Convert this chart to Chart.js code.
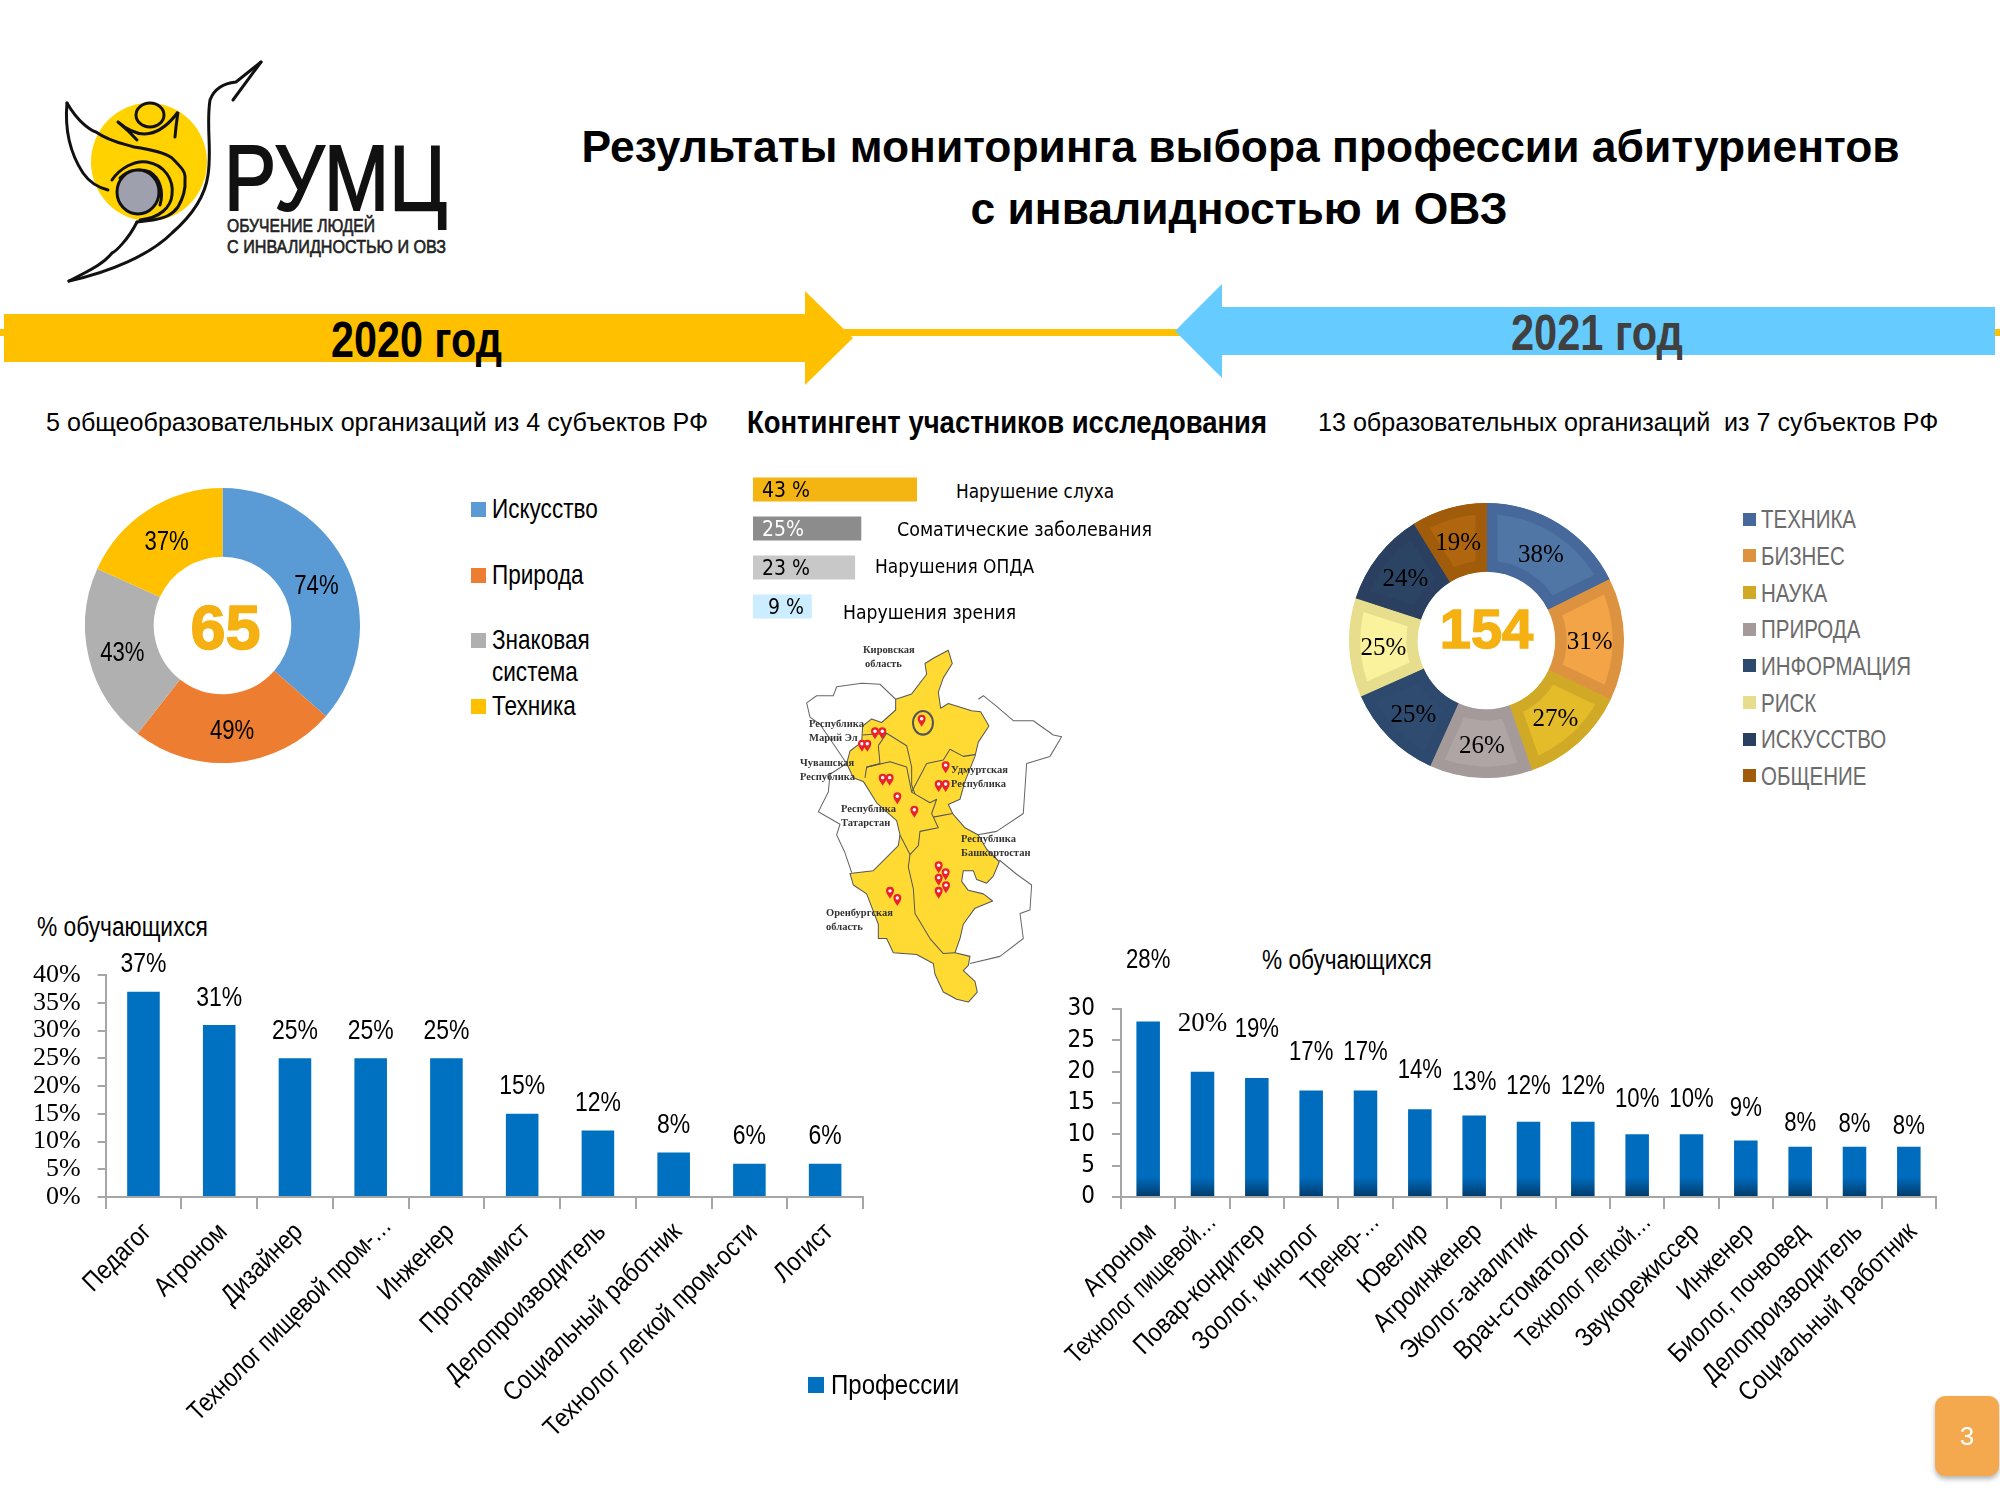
<!DOCTYPE html>
<html lang="ru">
<head>
<meta charset="utf-8">
<title>Результаты мониторинга</title>
<script src="https://cdn.jsdelivr.net/npm/chart.js@4/dist/chart.umd.min.js"></script>
<style>
html,body{margin:0;padding:0;background:#fff;}
#page{position:relative;width:2000px;height:1500px;overflow:hidden;font-family:"Liberation Sans",Arial,sans-serif;color:#000;}
#page canvas,#page svg,.t{position:absolute;}
.t{white-space:nowrap;transform:translateY(-50%);transform-origin:left center;}
.cond{font-family:"DejaVu Sans Condensed","DejaVu Sans",sans-serif;font-stretch:condensed;font-size:19.3px;}
.title{font-weight:bold;font-size:44.4px;left:581.5px;width:1315px;text-align:center;}
.sub{font-size:25.1px;}
.sq{position:absolute;}
#pageNo{position:absolute;left:1935px;top:1396px;width:64px;height:80px;background:#F4A94E;border-radius:10px;box-shadow:0 3px 5px rgba(0,0,0,.3);color:#fff;font-size:26px;line-height:80px;text-align:center;}
</style>
</head>
<body>
<div id="page">

<!-- logo -->
<svg style="left:50px;top:50px" width="420" height="250" viewBox="50 50 420 250">
  <ellipse cx="149" cy="162" rx="58" ry="59" fill="#FFD200"/>
  <g fill="none" stroke="#111" stroke-width="3" stroke-linecap="round">
    <path d="M261 62 L236 82 Q216 84 210 100 C206 125 212 150 208 175 C204 205 180 226 172 233 C150 255 110 272 69 281"/>
    <path d="M261 62 L233 100"/>
    <path d="M137 222 C128 240 115 252 112 253 C105 262 95 268 69 281"/>
    <path d="M67 103 C65 125 68 150 83 173 C90 183 100 188 108 190"/>
    <path d="M67 103 C78 122 90 130 96 132 C110 142 125 144 134 147 C155 150 165 153 172 158 C182 168 186 172 185 180 C186 192 182 200 178 207 C172 215 165 218 153 220 L137 222"/>
    <ellipse cx="150" cy="115" rx="14" ry="12"/>
    <path d="M118 122 Q150 150 178 112 Q176 125 175 137 M118 122 Q128 130 137 140"/>
    <path d="M112 180 C120 168 135 160 147 162 C165 165 174 180 172 195 C171 207 160 218 140 220"/>
    <path d="M120 178 C128 170 140 168 150 172 C160 178 164 192 160 205"/>
  </g>
  <ellipse cx="138" cy="192" rx="21" ry="22" fill="#9EA1AD" stroke="#111" stroke-width="3"/>
  <text x="224" y="210" font-family="Liberation Sans" font-size="93" stroke="#111" stroke-width="2" fill="#111" textLength="223" lengthAdjust="spacingAndGlyphs">РУМЦ</text>
  <text x="227" y="232" font-family="Liberation Sans" font-size="18" fill="#222" stroke="#222" stroke-width=".6" textLength="148" lengthAdjust="spacingAndGlyphs">ОБУЧЕНИЕ ЛЮДЕЙ</text>
  <text x="227" y="253" font-family="Liberation Sans" font-size="18" fill="#222" stroke="#222" stroke-width=".6" textLength="219" lengthAdjust="spacingAndGlyphs">С ИНВАЛИДНОСТЬЮ И ОВЗ</text>
</svg>

<div class="t title" style="top:147px">Результаты мониторинга выбора профессии абитуриентов</div>
<div class="t title" style="top:209px">с инвалидностью и ОВЗ</div>

<!-- timeline arrows -->
<svg style="left:0;top:270px" width="2000" height="130" viewBox="0 270 2000 130">
  <rect x="0" y="329" width="2000" height="7" fill="#FFC000"/>
  <polygon points="4,314 805,314 805,291 853,338 805,385 805,362 4,362" fill="#FFC000"/>
  <polygon points="1995,307 1222,307 1222,284 1175,331 1222,378 1222,355 1995,355" fill="#66CCFF"/>
</svg>
<div class="t" data-w="171" style="left:331px;top:340px;font-size:50px;font-weight:bold;">2020 год</div>
<div class="t" data-w="172" style="left:1511px;top:333px;font-size:50px;font-weight:bold;color:#404040;">2021 год</div>

<div class="t sub" style="left:46px;top:422px;">5 общеобразовательных организаций из 4 субъектов РФ</div>
<div class="t" data-w="520" style="left:747px;top:422px;font-size:32px;font-weight:bold;">Контингент участников исследования</div>
<div class="t sub" style="left:1318px;top:422px;">13 образовательных организаций&nbsp; из 7 субъектов РФ</div>

<canvas id="donut2020" style="left:85px;top:488px" width="275" height="275"></canvas>
<canvas id="donut2021" style="left:1349px;top:503px" width="275" height="275"></canvas>
<canvas id="contingent" style="left:753px;top:470px" width="164" height="156"></canvas>

<div class="t cond" data-w="158" style="left:956px;top:491px;">Нарушение слуха</div>
<div class="t cond" data-w="255" style="left:897px;top:529px;">Соматические заболевания</div>
<div class="t cond" data-w="159" style="left:875px;top:566px;">Нарушения ОПДА</div>
<div class="t cond" data-w="173" style="left:843px;top:612px;">Нарушения зрения</div>

<!-- map of the regions -->
<svg id="map" style="left:730px;top:460px" width="450" height="560" viewBox="0 0 450 560">
  <g transform="scale(0.3333,0.3571)" fill="none" stroke="#666" stroke-width="3" stroke-linejoin="round">
    <path d="M497 670 L450 628 L395 625 L320 635 L310 660 L260 660 L230 680 L240 720 L270 740 L350 850 L300 880 L295 930 L265 985 L330 1020 L320 1050 L345 1100 L365 1155"/>
    <path d="M745 670 L760 660 L800 690 L850 730 L910 730 L970 770 L995 775 L960 830 L890 850 L880 990 L800 1040 L740 1050"/>
    <path d="M808 1120 L860 1160 L905 1190 L900 1260 L870 1270 L880 1340 L810 1390 L720 1410"/>
    <path fill="#FFDA33" stroke="#555" d="M497 670 L545 655 L590 600 L585 570 L610 555 L655 533 L667 570 L640 610 L625 650 L632 695 L655 682 L725 702 L752 705 L777 745 L745 790 L735 830 L705 900 L690 950 L655 965 L668 990 L705 1030 L745 1050 L770 1090 L808 1125 L790 1165 L770 1185 L740 1175 L730 1150 L700 1150 L695 1180 L715 1205 L760 1215 L788 1235 L735 1255 L700 1300 L690 1340 L675 1380 L720 1390 L715 1415 L700 1430 L735 1460 L742 1490 L715 1518 L680 1510 L640 1490 L615 1440 L610 1410 L560 1385 L490 1380 L470 1340 L445 1340 L445 1300 L410 1215 L370 1190 L360 1158 L430 1150 L505 1080 L510 1050 L500 1010 L440 960 L400 900 L370 890 L350 850 L360 815 L395 790 L398 745 L425 725 L455 735 L497 700 Z"/>
    <path stroke="#555" d="M398 770 L470 765 L530 800 L545 860 L545 910 L555 935 M445 800 L450 850 L410 860 L405 890 M470 765 L445 800"/>
    <path stroke="#555" d="M410 860 L480 845 L530 860 L545 930 L600 960 L620 950 L605 990 L625 1030 L570 1040 L565 1080 L540 1105 L510 1050"/>
    <path stroke="#555" d="M545 930 L590 850 L640 840 L660 810 L700 830 L735 825 M610 1000 L668 990"/>
    <path stroke="#555" d="M540 1105 L535 1140 L550 1200 L555 1270 L600 1340 L640 1382 L675 1380"/>
    <ellipse cx="579" cy="736" rx="30" ry="33" stroke="#555" stroke-width="6"/>
  </g>
  <g id="pins"></g>
  <g font-family="Liberation Serif,DejaVu Serif,serif" font-weight="bold" font-size="10.5px" fill="#333">
    <text x="133" y="193">Кировская</text><text x="135" y="207">область</text>
    <text x="79" y="267">Республика</text><text x="79" y="281">Марий Эл</text>
    <text x="70" y="306">Чувашская</text><text x="70" y="320">Республика</text>
    <text x="111" y="352">Республика</text><text x="111" y="366">Татарстан</text>
    <text x="221" y="313">Удмуртская</text><text x="221" y="327">Республика</text>
    <text x="231" y="382">Республика</text><text x="231" y="396">Башкортостан</text>
    <text x="96" y="456">Оренбургская</text><text x="96" y="470">область</text>
  </g>
</svg>

<div class="t" data-w="171" style="left:37px;top:927px;font-size:27px">% обучающихся</div>
<div class="t" data-w="170" style="left:1262px;top:960px;font-size:27px">% обучающихся</div>

<canvas id="bars2020" style="left:0;top:940px" width="868" height="510"></canvas>
<canvas id="bars2021" style="left:1000px;top:940px" width="940" height="510"></canvas>

<div class="sq" style="left:808px;top:1377px;width:16px;height:16px;background:#0070C0"></div>
<div class="t" data-w="128" style="left:831px;top:1385px;font-size:28px">Профессии</div>

<div id="pageNo">3</div>
</div>

<script>
// 2020 donut
const labels2020 = ['Искусство', 'Природа', 'Знаковая система', 'Техника'];
const values2020 = [74, 49, 43, 37];
const colors2020 = ['#5B9BD5', '#ED7D31', '#B0B0B0', '#FFC000'];
const total2020 = '65';

// 2021 donut
const labels2021 = ['ТЕХНИКА', 'БИЗНЕС', 'НАУКА', 'ПРИРОДА', 'ИНФОРМАЦИЯ', 'РИСК', 'ИСКУССТВО', 'ОБЩЕНИЕ'];
const values2021 = [38, 31, 27, 26, 25, 25, 24, 19];
const fill2021 = ['#4F76A5', '#F2A446', '#E4BB28', '#B0A5A5', '#2F4B70', '#FAF29C', '#2C4464', '#B0660E'];
const rim2021 = ['#46689A', '#DD9240', '#D0AA26', '#A59A9A', '#2D4A6E', '#E6DE8C', '#2B4060', '#A05C0A'];
const total2021 = '154';

// participants
const contingentNames = ['Нарушение слуха', 'Соматические заболевания', 'Нарушения ОПДА', 'Нарушения зрения'];
const contingentValues = [43, 25, 23, 9];
const contingentText = ['43 %', '25%', '23 %', '9 %'];
const contingentColors = ['#F4B412', '#8C8C8C', '#C8C8C8', '#CCECFF'];
const contingentInk = ['#000', '#fff', '#000', '#000'];

// professions 2020
const prof2020 = ['Педагог', 'Агроном', 'Дизайнер', 'Технолог пищевой пром-…', 'Инженер', 'Программист', 'Делопроизводитель', 'Социальный работник', 'Технолог легкой пром-ости', 'Логист'];
const share2020 = [37, 31, 25, 25, 25, 15, 12, 8, 6, 6];

// professions 2021
const prof2021 = ['Агроном', 'Технолог пищевой…', 'Повар-кондитер', 'Зоолог, кинолог', 'Тренер-…', 'Ювелир', 'Агроинженер', 'Эколог-аналитик', 'Врач-стоматолог', 'Технолог легкой…', 'Звукорежиссер', 'Инженер', 'Биолог, почвовед', 'Делопроизводитель', 'Социальный работник'];
const share2021 = [28, 20, 19, 17, 17, 14, 13, 12, 12, 10, 10, 9, 8, 8, 8];
// how far above each bar its label floats on the slide
const lift2021 = [61, 48, 48, 38, 38, 39, 33, 35, 35, 35, 35, 32, 23, 22, 20];

const SANS = '"Liberation Sans",Arial,sans-serif';
const CONDENSED = '"DejaVu Sans Condensed","DejaVu Sans",sans-serif';
const SERIF = '"Liberation Serif","DejaVu Serif",serif';
const AXIS = '#A6A6A6';
const SQUEEZE = 0.82; // slide text is squeezed horizontally

Chart.defaults.animation = false;
Chart.defaults.responsive = false;
Chart.defaults.plugins.legend.display = false;
Chart.defaults.plugins.tooltip.enabled = false;

// writes the percent labels, there is no datalabels plugin here
const valueLabels = {
    id: 'valueLabels',
    afterDatasetsDraw(chart, args, opts) {
        if (!opts.text) return;
        const ctx = chart.ctx;
        const arcs = chart.config.type === 'doughnut';
        chart.getDatasetMeta(0).data.forEach(function(el, i) {
            const p = arcs ? el.getCenterPoint() : el;
            let x = p.x, y = p.y;
            if (opts.lift) y -= opts.lift(i);
            if (opts.inset) x = chart.chartArea.left + opts.inset(i);
            ctx.save();
            ctx.font = opts.fontFor ? opts.fontFor(i) : opts.font;
            ctx.fillStyle = opts.inkFor ? opts.inkFor(i) : '#000';
            ctx.textBaseline = 'middle';
            ctx.textAlign = opts.align || 'center';
            ctx.translate(x, y);
            const sq = opts.squeezeFor ? opts.squeezeFor(i) : (opts.squeeze || 1);
            ctx.scale(sq, 1);
            ctx.fillText(opts.text[i], 0, 0);
            ctx.restore();
        });
    }
};

// category names: same rotation as the slide, and squeezed, which the axis can't do itself
const slantedTicks = {
    id: 'slantedTicks',
    afterDraw(chart, args, opts) {
        if (!opts.font) return;
        const ctx = chart.ctx, scale = chart.scales.x;
        chart.data.labels.forEach(function(name, i) {
            // cut names sit a bit differently on the slide
            const cut = name.endsWith('…') ? opts.cut : {dx: 0, dy: 0, squeeze: opts.squeeze};
            ctx.save();
            ctx.translate(scale.getPixelForTick(i) + opts.dx + cut.dx, chart.chartArea.bottom + opts.dy + cut.dy);
            ctx.rotate(-opts.angle * Math.PI / 180);
            ctx.scale(cut.squeeze, 1);
            ctx.font = opts.font;
            ctx.fillStyle = '#000';
            ctx.textAlign = 'right';
            ctx.textBaseline = 'middle';
            ctx.fillText(name, 0, 0);
            ctx.restore();
        });
    }
};

const centerTotal = {
    id: 'centerTotal',
    afterDraw(chart, args, opts) {
        if (!opts.text) return;
        const ctx = chart.ctx, a = chart.chartArea;
        const x = (a.left + a.right) / 2 + opts.dx, y = (a.top + a.bottom) / 2 + opts.dy;
        ctx.save();
        ctx.font = 'bold ' + opts.size + 'px ' + SANS;
        ctx.fillStyle = ctx.strokeStyle = '#F5B011';
        ctx.lineWidth = 1.5;
        ctx.textAlign = 'center';
        ctx.textBaseline = 'middle';
        ctx.fillText(opts.text, x, y);
        ctx.strokeText(opts.text, x, y);
        ctx.restore();
    }
};
Chart.register(valueLabels, slantedTicks, centerTotal);

function percent(list) {
    return list.map(function(v) { return v + '%'; });
}

new Chart(document.getElementById('donut2020'), {
    type: 'doughnut',
    data: {labels: labels2020, datasets: [{data: values2020, backgroundColor: colors2020, borderWidth: 0}]},
    options: {
        cutout: '50%',
        plugins: {
            valueLabels: {text: percent(values2020), font: '27px ' + SANS, squeeze: SQUEEZE, lift: function() { return -3.5; }},
            centerTotal: {text: total2020, size: 63, dx: 3, dy: 6}
        }
    }
});

new Chart(document.getElementById('donut2021'), {
    type: 'doughnut',
    data: {labels: labels2021, datasets: [{
        data: values2021,
        backgroundColor: fill2021,
        borderColor: rim2021,
        borderWidth: 11,
        borderAlign: 'inner'
    }]},
    options: {
        cutout: '50%',
        plugins: {
            valueLabels: {text: percent(values2021), font: '25px ' + SERIF, lift: function() { return -2.5; }},
            centerTotal: {text: total2021, size: 56, dx: 0, dy: -8}
        }
    }
});

// bars on the slide do not start at zero, base -10 gets the same lengths
new Chart(document.getElementById('contingent'), {
    type: 'bar',
    data: {labels: contingentNames, datasets: [{
        data: contingentValues,
        base: -10,
        backgroundColor: contingentColors,
        categoryPercentage: 1,
        barPercentage: 0.62
    }]},
    options: {
        indexAxis: 'y',
        layout: {padding: 0},
        scales: {
            x: {display: false, min: -10, max: 43},
            y: {display: false}
        },
        plugins: {
            valueLabels: {
                text: contingentText,
                font: '21px ' + CONDENSED,
                align: 'left',
                lift: function() { return -2; },
                inset: function(i) { return i === 3 ? 15 : 9; },
                inkFor: function(i) { return contingentInk[i]; }
            }
        }
    }
});

function fixedAxis(size) {
    return function(scale) {
        if (scale.isHorizontal()) scale.height = size;
        else scale.width = size;
    };
}

new Chart(document.getElementById('bars2020'), {
    type: 'bar',
    data: {labels: prof2020, datasets: [{
        label: 'Профессии',
        data: share2020,
        backgroundColor: '#0070C0',
        categoryPercentage: 1,
        barPercentage: 0.43
    }]},
    options: {
        layout: {padding: {top: 35, right: 5}},
        scales: {
            x: {
                afterFit: fixedAxis(253),
                border: {color: AXIS, width: 2},
                grid: {drawOnChartArea: false, color: AXIS, lineWidth: 2, tickLength: 12},
                ticks: {display: false}
            },
            y: {
                min: 0, max: 40,
                afterFit: fixedAxis(105.6),
                border: {color: AXIS, width: 2},
                grid: {drawOnChartArea: false, color: AXIS, lineWidth: 2, tickLength: 8},
                ticks: {color: '#000', stepSize: 5, autoSkip: false, padding: 17, font: {family: SERIF, size: 26},
                    callback: function(v) { return v + '%'; }}
            }
        },
        plugins: {
            valueLabels: {
                text: percent(share2020),
                font: '28px ' + SANS,
                squeeze: SQUEEZE,
                lift: function() { return 27; }
            },
            slantedTicks: {font: '26.5px ' + SANS, squeeze: 0.87, angle: 45, dx: 4, dy: 31, cut: {dx: 13, dy: -6, squeeze: 0.83}}
        }
    }
});

// darker foot on the bars of the right chart
function footGradient(c) {
    const chart = c.chart;
    if (!chart.chartArea) return '#006CBE';
    const bottom = chart.chartArea.bottom;
    const g = chart.ctx.createLinearGradient(0, bottom - 20, 0, bottom);
    g.addColorStop(0, '#006CBE');
    g.addColorStop(1, '#003A6A');
    return g;
}

new Chart(document.getElementById('bars2021'), {
    type: 'bar',
    data: {labels: prof2021, datasets: [{
        data: share2021,
        backgroundColor: footGradient,
        categoryPercentage: 1,
        barPercentage: 0.433
    }]},
    options: {
        layout: {padding: {top: 69, right: 4}},
        scales: {
            x: {
                afterFit: fixedAxis(253),
                border: {color: AXIS, width: 2},
                grid: {drawOnChartArea: false, color: AXIS, lineWidth: 2, tickLength: 12},
                ticks: {display: false}
            },
            y: {
                min: 0, max: 30,
                afterFit: fixedAxis(121),
                border: {color: AXIS, width: 2},
                grid: {drawOnChartArea: false, color: AXIS, lineWidth: 2, tickLength: 9},
                ticks: {color: '#000', stepSize: 5, autoSkip: false, padding: 17, font: {family: CONDENSED, size: 24}}
            }
        },
        plugins: {
            valueLabels: {
                text: percent(share2021),
                fontFor: function(i) { return i === 1 ? '27px ' + SERIF : '27px ' + SANS; },
                squeezeFor: function(i) { return i === 1 ? 1 : SQUEEZE; },
                lift: function(i) { return lift2021[i]; }
            },
            slantedTicks: {font: '26.5px ' + SANS, squeeze: 0.87, angle: 45, dx: 4, dy: 31, cut: {dx: 6, dy: -10, squeeze: 0.79}}
        }
    }
});

// legends as on the slide
const page = document.getElementById('page');
function legendRow(name, color, x, y, square, fontSize, ink, gap) {
    const sq = document.createElement('div');
    sq.className = 'sq';
    sq.style.cssText = 'left:' + x + 'px;top:' + (y - square / 2) + 'px;width:' + square + 'px;height:' + square + 'px;background:' + color;
    page.appendChild(sq);
    const t = document.createElement('div');
    t.textContent = name;
    t.style.cssText = 'position:absolute;left:' + (x + gap) + 'px;top:' + (y - 16) + 'px;width:135px;line-height:32px;font-size:' + fontSize + 'px;color:' + ink + ';transform:scaleX(' + SQUEEZE + ');transform-origin:left top';
    page.appendChild(t);
}
const rows2020 = [509, 575, 640, 706];
labels2020.forEach(function(name, i) {
    legendRow(name, colors2020[i], 471, rows2020[i], 15, 27.5, '#000', 21);
});
labels2021.forEach(function(name, i) {
    legendRow(name, rim2021[i], 1743, 519.3 + i * 36.67, 13, 25, '#6B6B6B', 18);
});

// squeeze the condensed headings to their width on the slide
document.querySelectorAll('[data-w]').forEach(function(el) {
    const s = Number(el.dataset.w) / el.offsetWidth;
    el.style.transform = 'translateY(-50%) scaleX(' + s + ')';
});

// pins on the map
const pinSpots = [[575,730],[435,765],[457,765],[396,800],[412,800],[458,895],[479,895],[502,947],[553,985],[647,860],[626,913],[647,913],[626,1140],[647,1160],[626,1175],[648,1196],[626,1212],[480,1212],[502,1232]];
document.getElementById('pins').innerHTML = pinSpots.map(function(p) {
    const x = p[0] / 3, y = p[1] / 2.8;
    return '<g transform="translate(' + x + ',' + (y + 6) + ')"><path d="M0 0 C-1.5 -3 -4 -5 -4 -8 A4 4 0 1 1 4 -8 C4 -5 1.5 -3 0 0Z" fill="#E8232E"/><circle cx="0" cy="-8" r="1.7" fill="#fff"/></g>';
}).join('');
</script>
</body>
</html>
